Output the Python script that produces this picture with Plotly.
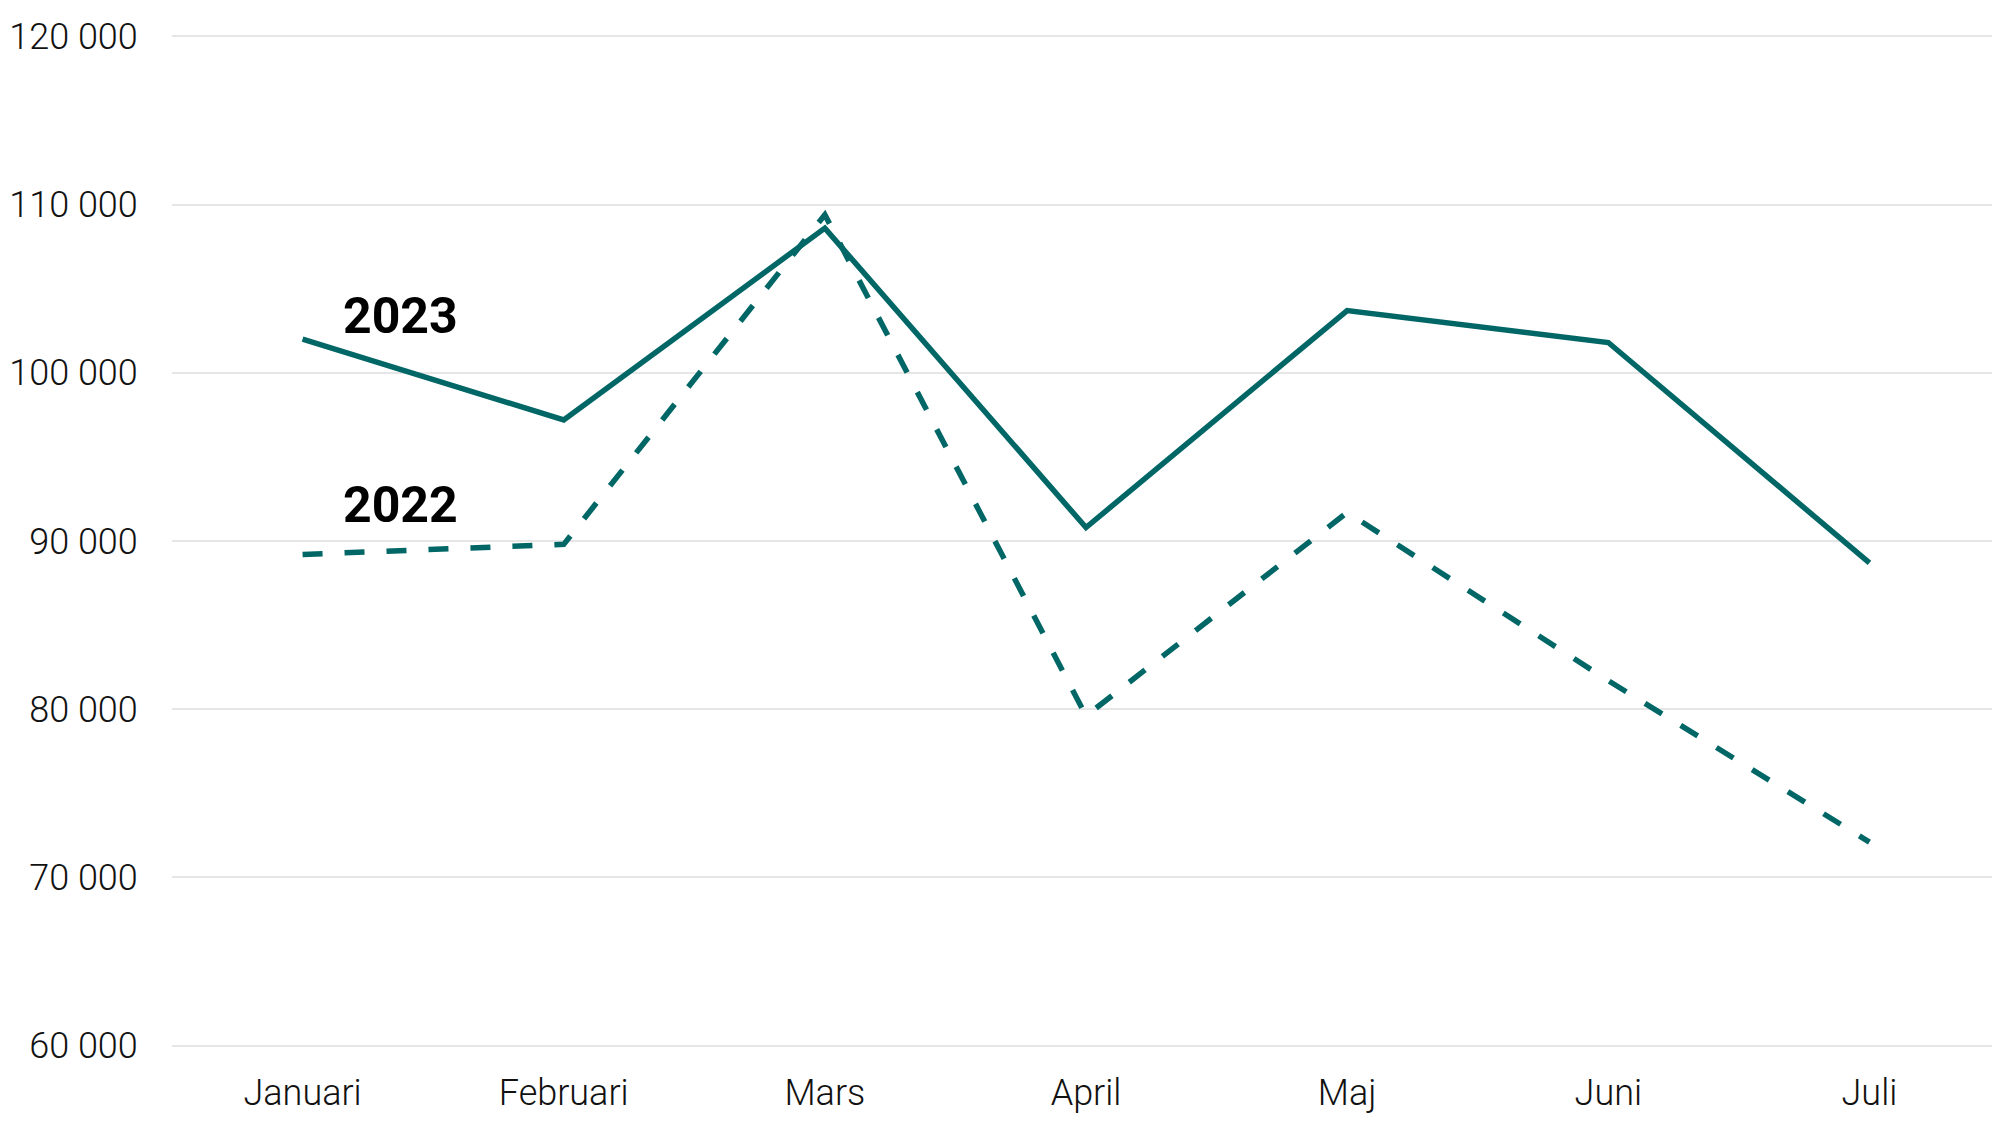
import plotly.graph_objects as go

# Monthly values
months = ["Januari", "Februari", "Mars", "April", "Maj", "Juni", "Juli"]
values_2023 = [102000, 97200, 108600, 90800, 103700, 101800, 88700]
values_2022 = [89200, 89800, 109400, 79600, 91700, 81700, 72100]
y_ticks = [60000, 70000, 80000, 90000, 100000, 110000, 120000]

line_color = "#006766"
light_font = dict(family="Roboto Light, Roboto", size=36, color="#111111", weight=300)

fig = go.Figure()

fig.add_trace(
    go.Scatter(
        x=months,
        y=values_2023,
        mode="lines",
        name="2023",
        line=dict(color=line_color, width=5.5),
    )
)
fig.add_trace(
    go.Scatter(
        x=months,
        y=values_2022,
        mode="lines",
        name="2022",
        line=dict(color=line_color, width=5.5, dash="20px,22px"),
    )
)

# Series labels next to the first points
for label, yval in [("2023", 103370), ("2022", 92140)]:
    fig.add_annotation(
        x=0.375, y=yval, text=label, showarrow=False,
        font=dict(family="Roboto", size=50, color="#000000", weight="bold"),
    )

# page body has an 8px margin, so the figure is 8px smaller each way
fig.update_layout(
    width=1992,
    height=1117,
    margin=dict(l=164, r=0, t=25, b=76),
    paper_bgcolor="white",
    plot_bgcolor="white",
    showlegend=False,
    separators=", ",
    font=light_font,
)
fig.update_xaxes(
    range=[-0.5, 6.5],
    automargin=False,
    showgrid=False,
    showline=False,
    zeroline=False,
    ticks="outside",
    ticklen=12,
    tickcolor="rgba(0,0,0,0)",
    tickfont=light_font,
)
# a little padding so the end gridlines are not clipped away
fig.update_yaxes(
    range=[59800, 120200],
    automargin=False,
    tickvals=y_ticks,
    tickformat=",d",
    showgrid=True,
    gridcolor="#e6e6e6",
    gridwidth=2,
    zeroline=False,
    showline=False,
    ticks="outside",
    ticklen=26,
    tickcolor="rgba(0,0,0,0)",
    tickfont=light_font,
)

fig.write_html("out.html")
